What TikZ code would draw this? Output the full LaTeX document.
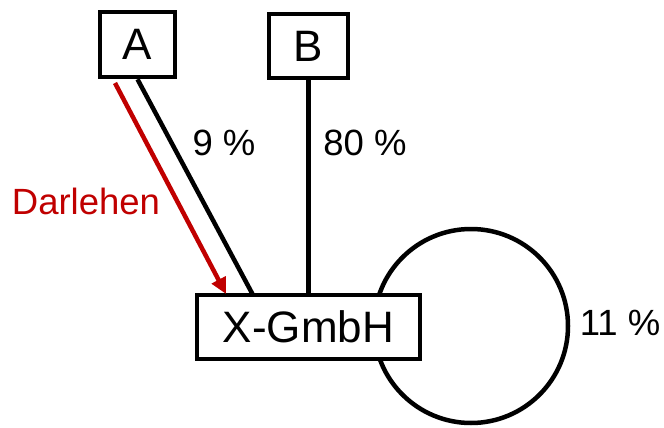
\documentclass[tikz,border=0pt]{standalone}
\usepackage{fontspec}
\setmainfont{Liberation Sans}
\usetikzlibrary{arrows.meta}
\definecolor{darkred}{RGB}{192,0,0}
\begin{document}
\begin{tikzpicture}[x=1pt,y=-1pt,
  ent/.style={draw, line width=4.5pt, fill=white, inner sep=0pt, font=\fontsize{44}{48}\selectfont},
  lbl/.style={font=\fontsize{36.5}{40}\selectfont, inner sep=0pt},
  link/.style={line width=4.5pt}]
\useasboundingbox (0,0) rectangle (664,428);
\draw[link] (471,326) circle[radius=97];
\node[ent, minimum width=75pt, minimum height=65pt] (A) at (137.5,44.5) {A};
\node[ent, minimum width=79pt, minimum height=64pt] (B) at (308.5,46) {B};
\node[ent, minimum width=223pt, minimum height=64pt] (X) at (308.5,327) {X-GmbH};
\coordinate (xa) at (253,295);
\coordinate (ra) at (115,83);
\coordinate (rb) at (226,294);
\draw[link] (A.south) -- (xa);
\draw[link] (B.south) -- (X.north -| B.south);
\draw[link, darkred, -{Triangle[length=16pt,width=15pt]}] (ra) -- (rb);
\node[lbl] (p9) at (224,143) {9 \%};
\node[lbl] (p80) at (365,143) {80 \%};
\node[lbl, text=darkred] (dl) at (86,201) {Darlehen};
\node[lbl] (p11) at (620,323) {11 \%};
\end{tikzpicture}
\end{document}
